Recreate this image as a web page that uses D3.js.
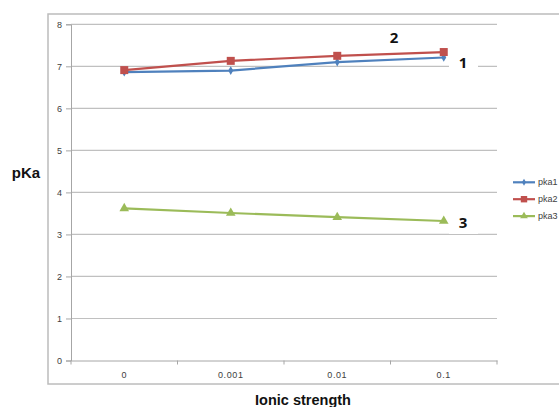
<!DOCTYPE html>
<html><head><meta charset="utf-8">
<script src="https://cdn.jsdelivr.net/npm/d3@7"></script>
<style>body{margin:0;background:#fff}svg{display:block}</style>
</head><body>
<script>
const categories = ["0", "0.001", "0.01", "0.1"];
const pka1 = [6.86, 6.90, 7.10, 7.21];
const pka2 = [6.91, 7.13, 7.25, 7.34];
const pka3 = [3.62, 3.51, 3.41, 3.32];
const seriesNames = ["pka1", "pka2", "pka3"];
const yTicks = [0, 1, 2, 3, 4, 5, 6, 7, 8];
const colors = ["#4F81BD", "#C0504D", "#9BBB59"];
const seriesValues = [pka1, pka2, pka3];

const W = 559, H = 407;
const svg = d3.select("body").append("svg").attr("width", W).attr("height", H);

// outer frame
svg.append("rect").attr("x", 48).attr("y", 14).attr("width", 560).attr("height", 370)
  .attr("fill", "none").attr("stroke", "#bcbcbc").attr("stroke-width", 1.5);

const x = d3.scaleBand().domain(categories).range([71, 497]);
const y = d3.scaleLinear().domain([0, 8]).range([360.5, 24.3]);

// gridlines
svg.append("g").selectAll("line").data(yTicks.filter(d => d > 0)).join("line")
  .attr("x1", 71).attr("x2", 497).attr("y1", d => y(d)).attr("y2", d => y(d))
  .attr("stroke", "#c0c0c0").attr("stroke-width", 1.2);

const tickFont = "9px 'Liberation Sans', Arial, sans-serif";

// y axis
const yAxis = d3.axisLeft(y).tickValues(yTicks).tickSize(5).tickPadding(4);
const gy = svg.append("g").attr("transform", "translate(71,0)").call(yAxis);
gy.select(".domain").attr("stroke", "#a6a6a6");
gy.selectAll(".tick line").attr("stroke", "#a6a6a6");
gy.selectAll(".tick text").attr("fill", "#404040").style("font", tickFont);

// x axis
const gx = svg.append("g").attr("transform", `translate(0,${y(0)})`)
  .call(d3.axisBottom(x).tickSize(0).tickPadding(11));
gx.select(".domain").attr("stroke", "#a6a6a6");
gx.selectAll(".tick text").attr("fill", "#404040").style("font", tickFont).style("letter-spacing", "0.6px");
const bounds = categories.map(c => x(c)).concat([x.range()[1]]);
gx.selectAll(".bt").data(bounds).join("line").attr("class", "bt")
  .attr("x1", d => d).attr("x2", d => d).attr("y1", 0).attr("y2", 4).attr("stroke", "#a6a6a6");

const cx = c => x(c) + x.bandwidth() / 2;
const line = d3.line().x((d, i) => cx(categories[i])).y(d => y(d));

seriesValues.forEach((vals, s) => {
  svg.append("path").datum(vals).attr("d", line).attr("fill", "none")
    .attr("stroke", colors[s]).attr("stroke-width", 2.2);
});

function marker(g, s, px, py, scale) {
  const k = scale || 1;
  if (s === 0) {
    g.append("path").attr("d", d3.symbol(d3.symbolDiamond, 22 * k * k)()).attr("transform", `translate(${px},${py})`).attr("fill", colors[0]);
  } else if (s === 1) {
    g.append("rect").attr("x", px - 4 * k).attr("y", py - 4 * k).attr("width", 8 * k).attr("height", 8 * k).attr("fill", colors[1]);
  } else {
    g.append("path").attr("d", d3.symbol(d3.symbolTriangle, 40 * k * k)()).attr("transform", `translate(${px},${py})`).attr("fill", colors[2]);
  }
}
seriesValues.forEach((vals, s) => {
  vals.forEach((v, i) => marker(svg, s, cx(categories[i]), y(v)));
});

// number labels with white backgrounds
const labels = [
  {t: "2", x: 394, y: 37, bx: 380, bw: 26},
  {t: "1", x: 463, y: 62, bx: 449, bw: 29},
  {t: "3", x: 463, y: 222, bx: 449, bw: 29}
];
labels.forEach(l => {
  svg.append("rect").attr("x", l.bx).attr("y", l.y - 12).attr("width", l.bw).attr("height", 24).attr("fill", "#fff");
  svg.append("text").attr("x", l.x).attr("y", l.y).attr("text-anchor", "middle").attr("dominant-baseline", "central")
    .style("font", "bold 15px 'Open Sans', 'Liberation Sans', sans-serif").attr("fill", "#111").text(l.t);
});

// legend
const lg = svg.append("g");
seriesNames.forEach((n, i) => {
  const ly = 182.3 + i * 16.9;
  lg.append("line").attr("x1", 513).attr("x2", 535).attr("y1", ly).attr("y2", ly).attr("stroke", colors[i]).attr("stroke-width", 2.2);
  marker(lg, i, 524, ly, 0.8);
  lg.append("text").attr("x", 538).attr("y", ly).attr("dominant-baseline", "central")
    .style("font", "9px 'Liberation Sans', Arial, sans-serif").attr("fill", "#404040").text(n);
});

// axis titles
svg.append("text").attr("x", 26).attr("y", 172).attr("text-anchor", "middle").attr("dominant-baseline", "central")
  .style("font", "bold 15px 'Liberation Sans', Arial, sans-serif").attr("fill", "#111").text("pKa");
svg.append("text").attr("x", 303).attr("y", 405).attr("text-anchor", "middle")
  .style("font", "bold 14.5px 'Liberation Sans', Arial, sans-serif").attr("fill", "#111").text("Ionic strength");
</script>
</body></html>
